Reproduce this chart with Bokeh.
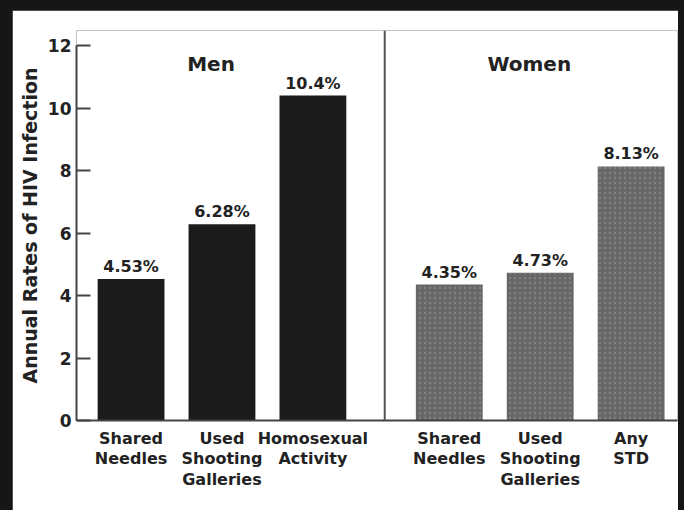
from bokeh.plotting import figure
from bokeh.models import ColumnDataSource, FixedTicker, Span, Range1d
from bokeh.layouts import column
from bokeh.core.properties import value
from bokeh.embed import file_html
from bokeh.resources import INLINE

# ---- data ----
groups = ["Men", "Men", "Men", "Women", "Women", "Women"]
categories = ["Shared\nNeedles", "Used\nShooting\nGalleries", "Homosexual\nActivity",
              "Shared\nNeedles", "Used\nShooting\nGalleries", "Any\nSTD"]
rates = [4.53, 6.28, 10.4, 4.35, 4.73, 8.13]
rate_labels = ["4.53%", "6.28%", "10.4%", "4.35%", "4.73%", "8.13%"]
group_names = ["Men", "Women"]
y_ticks = [0, 2, 4, 6, 8, 10, 12]
y_title = "Annual Rates of HIV Infection"

# ---- layout helpers ----
group_color = {"Men": "#1b1b1b", "Women": "#676767"}
group_hatch = {"Men": " ", "Women": "dot"}
xs = []
for i, g in enumerate(groups):
    xs.append(float(i) + (0.5 if g != groups[0] else 0.0))

src = ColumnDataSource(dict(
    x=xs, rate=rates, label=rate_labels,
    color=[group_color[g] for g in groups],
    hatch=[group_hatch[g] for g in groups],
))

FONT = "DejaVu Sans"
TXT = "#222222"

fig = figure(width=666, height=500,
             x_range=Range1d(-0.6, 6.01), y_range=Range1d(0, 12.48),
             output_backend="svg", toolbar_location=None,
             min_border_left=64, min_border_right=1,
             min_border_top=20, min_border_bottom=90)
fig.background_fill_color = "white"
fig.border_fill_color = "white"
fig.outline_line_color = None
fig.xgrid.visible = False
fig.ygrid.visible = False

fig.vbar(x="x", top="rate", bottom=0, width=0.735, source=src,
         fill_color="color", line_color=None,
         hatch_pattern="hatch", hatch_color="#b0b0b0", hatch_alpha=0.35,
         hatch_scale=5, hatch_weight=1)

fig.text(x="x", y="rate", text="label", source=src,
         text_align="center", text_baseline="bottom", y_offset=-3,
         text_font=value(FONT), text_font_style="bold",
         text_font_size="16px", text_color=TXT)

# group titles
centers = []
for g in group_names:
    gx = [x for x, gg in zip(xs, groups) if gg == g]
    centers.append(sum(gx) / len(gx) - 0.12)
fig.text(x=centers, y=[11.42] * len(centers), text=group_names,
         text_align="center", text_baseline="middle",
         text_font=value(FONT), text_font_style="bold",
         text_font_size="20px", text_color=TXT)

# divider between groups
last_men = max(x for x, g in zip(xs, groups) if g == group_names[0])
first_women = min(x for x, g in zip(xs, groups) if g == group_names[1])
fig.add_layout(Span(location=(last_men + first_women) / 2 + 0.04, dimension="height",
                    line_color="#555555", line_width=2))

# y axis
ya = fig.yaxis[0]
ya.ticker = FixedTicker(ticks=y_ticks)
ya.bounds = (0, 12)
ya.axis_label = y_title
ya.axis_label_text_font = FONT
ya.axis_label_text_font_style = "bold"
ya.axis_label_text_font_size = "19px"
ya.axis_label_text_color = TXT
ya.axis_label_standoff = 4
ya.major_label_text_font = FONT
ya.major_label_text_font_style = "bold"
ya.major_label_text_font_size = "17px"
ya.major_label_text_color = TXT
ya.major_label_standoff = 5
ya.major_tick_in = 14
ya.major_tick_out = 0
ya.minor_tick_in = 0
ya.minor_tick_out = 0
ya.axis_line_color = "#444444"
ya.axis_line_width = 2
ya.major_tick_line_color = "#444444"
ya.major_tick_line_width = 2

# x axis
xa = fig.xaxis[0]
xa.ticker = FixedTicker(ticks=xs)
xa.major_label_overrides = {x: c for x, c in zip(xs, categories)}
xa.major_label_text_font = FONT
xa.major_label_text_font_style = "bold"
xa.major_label_text_font_size = "16px"
xa.major_label_text_color = TXT
xa.major_label_text_line_height = 1.1
xa.major_label_standoff = 8
xa.major_tick_in = 0
xa.major_tick_out = 0
xa.minor_tick_in = 0
xa.minor_tick_out = 0
xa.axis_line_color = "#444444"
xa.axis_line_width = 2

p = column(fig, styles={"background-color": "#161616",
                        "padding": "10px 6px 0px 12px"})

open("out.html", "w").write(file_html(p, INLINE))
